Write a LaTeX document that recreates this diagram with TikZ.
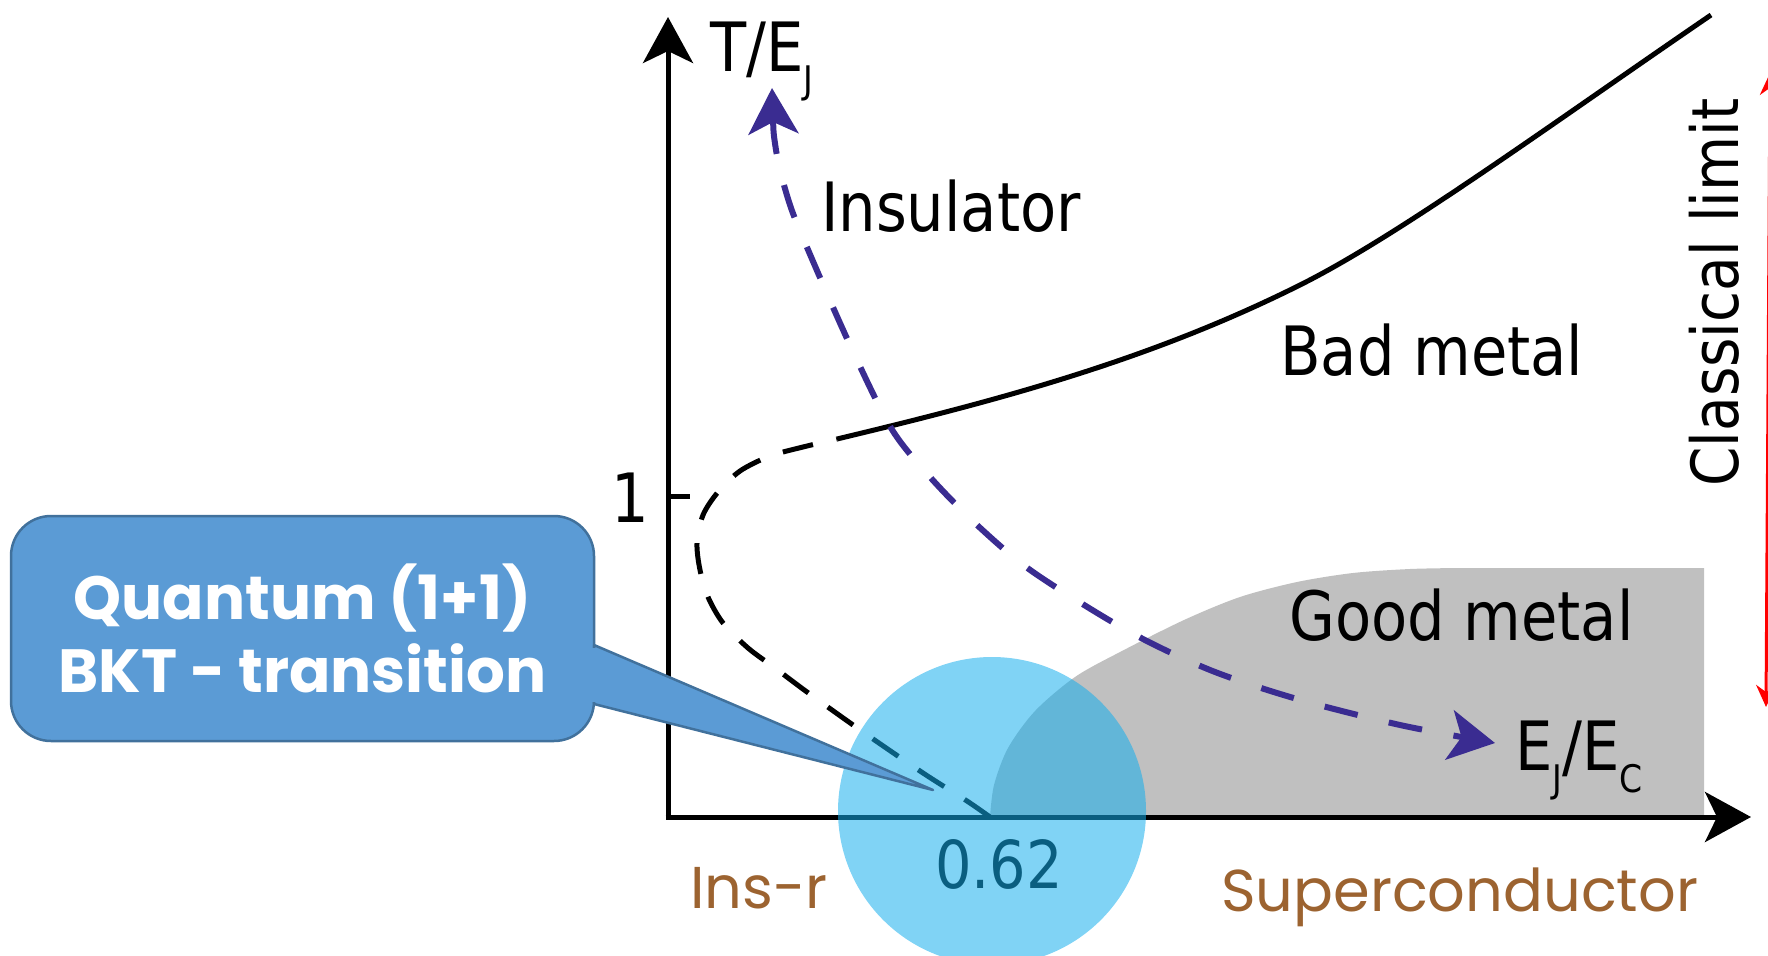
\documentclass[tikz,border=0pt]{standalone}
\usepackage{fontspec}
\usetikzlibrary{arrows.meta}
\newfontfamily\lblfont[FakeStretch=0.87]{DejaVu Sans}
\newfontfamily\comicfont{Poppins}
\definecolor{greyreg}{RGB}{192,192,192}
\definecolor{pviolet}{RGB}{58,44,145}
\definecolor{cyanc}{RGB}{20,174,237}
\definecolor{cfill}{RGB}{91,155,213}
\definecolor{cborder}{RGB}{65,113,156}
\definecolor{brownt}{RGB}{156,99,48}
\begin{document}
\begin{tikzpicture}[x=1pt,y=-1pt,
  axisline/.style={line width=5pt,black,-{Stealth[length=46pt,width=50pt,inset=12pt]}},
  blackdash/.style={line width=5pt,black,dash pattern=on 31pt off 24pt},
  blackline/.style={line width=5pt,black},
  vpath/.style={line width=6pt,pviolet,dash pattern=on 34pt off 32pt,
     {Stealth[length=46pt,width=50pt,inset=12pt]}-{Stealth[length=46pt,width=50pt,inset=12pt]}},
  lab/.style={inner sep=0pt,font={\lblfont\fontsize{68}{80}\selectfont}},
  brownlab/.style={inner sep=0pt,text=brownt,font={\comicfont\fontsize{59}{66}\selectfont}},
  calloutbox/.style={rectangle,rounded corners=40pt,fill=cfill,draw=cborder,line width=2.5pt,
     minimum width=583pt,minimum height=225pt,inner sep=0pt,text=white,align=center,
     font={\comicfont\bfseries\fontsize{61}{73}\selectfont}}
]
\useasboundingbox (0,0) rectangle (1768,955);

% grey region (good metal)
\fill[greyreg] plot[smooth] coordinates {(990,817) (994,785) (1008,748) (1035,711) (1075,677) (1120,652) (1184,620) (1240,597) (1297,582) (1353,573) (1410,569) (1460,568)}
  -- (1704,568) -- (1704,817) -- cycle;

% phase boundary: dashed part and solid part
\draw[blackdash] plot[smooth] coordinates {(990,817) (967,801) (923,773) (863,732) (807,692) (775,668) (748,648) (723,623) (708,597) (700,570) (697,543) (703,515) (718,492) (740,471) (770,456) (803,447) (837,439)};
\draw[blackline] (837,439) .. controls (1000,400) and (1150,360) .. (1300,285)
   .. controls (1400,235) and (1550,125) .. (1711,15);

% violet flow arrow
\draw[vpath] plot[smooth] coordinates {(772,88) (776,150) (790,205) (812,259) (850,345) (891,428) (930,477) (977,525) (1033,572) (1128,631) (1210,670) (1297,699) (1400,725) (1495,743)};

% axes
\coordinate (O) at (668,817);
\coordinate (ytop) at (668,17);
\coordinate (xend) at (1751,817);
\coordinate (t1) at (668,496);
\coordinate (t1e) at (690,496);
\draw[axisline] ([yshift=2.5pt]O) -- (ytop);
\draw[axisline] ([xshift=-2.5pt]O) -- (xend);
\draw[blackline] (t1) -- (t1e);

% labels
\node[lab,anchor=base west] (ylab) at (710,72) {T/E\raisebox{-22pt}{\fontsize{38}{38}\selectfont J}};
\node[lab,anchor=base] (one) at (630,522) {1};
\node[lab,anchor=base west] (ins) at (821,231) {Insulator};
\node[lab,anchor=base west] (bad) at (1280,375) {Bad metal};
\node[lab,anchor=base west] (good) at (1289,640) {Good metal};
\node[lab,anchor=base west] (xlab) at (1515,770) {E\raisebox{-22pt}{\fontsize{38}{38}\selectfont J}/E\raisebox{-22pt}{\fontsize{38}{38}\selectfont C}};
\node[lab,anchor=base west,rotate=90,font={\lblfont\fontsize{65}{70}\selectfont}] (classic) at (1738,487) {Classical limit};
\node[lab,anchor=base west,font={\lblfont\fontsize{66}{70}\selectfont}] (val) at (935,888) {0.62};

% highlight circle
\fill[cyanc,opacity=0.54] (992,811) circle[radius=154pt];

% callout
\node[calloutbox] (bkt) at (302.5,628.5) {Quantum (1+1)\\BKT - transition};
\coordinate (pb1) at (594,645);
\coordinate (pb2) at (594,704);
\coordinate (ptip) at (933,790);
\filldraw[fill=cfill,draw=cborder,line width=2.5pt,line join=round] (pb1) -- (ptip) -- (pb2) -- cycle;
\fill[cfill] (589,647.5) rectangle (597,701.5);

% brown labels
\node[brownlab,anchor=base west] (insr) at (690,908) {Ins-r};
\node[brownlab,anchor=base west] (sc) at (1221,911) {Superconductor};

% red double arrow (classical limit)
\coordinate (rtop) at (1770,73);
\coordinate (rbot) at (1766,707);
\draw[red,line width=3pt,{Stealth[length=22pt,width=20pt]}-{Stealth[length=22pt,width=20pt]}] (rbot) -- (rtop);
\end{tikzpicture}
\end{document}
